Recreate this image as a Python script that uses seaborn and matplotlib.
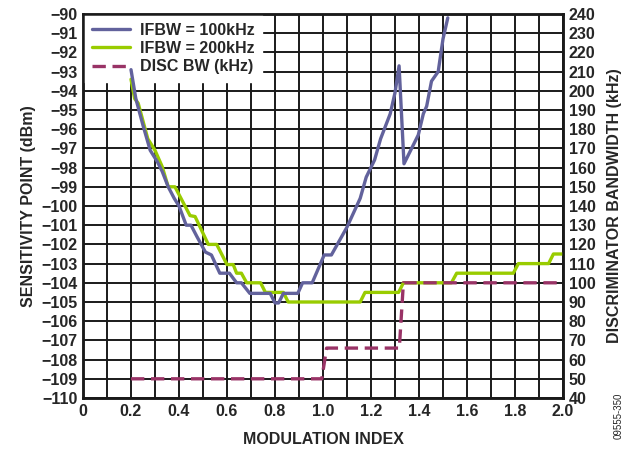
import matplotlib
matplotlib.use("Agg")
import matplotlib.pyplot as plt
import seaborn as sns
import pandas as pd
from matplotlib.ticker import MultipleLocator, FixedLocator

# ---- data ----
ifbw100_x = [0.20, 0.22, 0.25, 0.28, 0.31, 0.33, 0.355, 0.38, 0.40, 0.43, 0.45, 0.475,
             0.51, 0.535, 0.57, 0.61, 0.64, 0.66, 0.695, 0.78, 0.80, 0.815, 0.835, 0.895,
             0.915, 0.955, 1.005, 1.035, 1.10, 1.155, 1.18, 1.215, 1.24, 1.28, 1.30,
             1.317, 1.3375, 1.397, 1.418, 1.432, 1.452, 1.48, 1.50, 1.52]
ifbw100_y = [-92.9, -94.4, -95.8, -97.1, -97.7, -98.2, -99.0, -99.6, -100.0, -101.0, -101.0, -101.6,
             -102.4, -102.55, -103.5, -103.5, -104.0, -104.0, -104.55, -104.55, -105.05, -105.05, -104.55, -104.55,
             -104.0, -104.0, -102.55, -102.55, -101.1, -99.6, -98.5, -97.6, -96.5, -95.2, -94.1,
             -92.7, -97.8, -96.3, -95.2, -94.8, -93.5, -93.0, -91.3, -90.2]

ifbw200_x = [0.20, 0.215, 0.23, 0.27, 0.30, 0.33, 0.355, 0.383, 0.446, 0.467, 0.522, 0.557,
             0.60, 0.626, 0.64, 0.66, 0.682, 0.74, 0.76, 0.835, 0.855, 1.155, 1.175, 1.315,
             1.335, 1.535, 1.557, 1.793, 1.814, 1.94, 1.96, 2.0]
ifbw200_y = [-93.4, -94.4, -94.65, -96.5, -97.1, -97.95, -99.0, -99.0, -100.5, -100.55, -102.0, -102.0,
             -103.05, -103.05, -103.5, -103.5, -104.0, -104.0, -104.5, -104.5, -105.0, -105.0, -104.5, -104.5,
             -104.0, -104.0, -103.5, -103.5, -103.0, -103.0, -102.5, -102.5]

disc_x = [0.20, 0.995, 1.015, 1.318, 1.335, 2.0]
disc_y = [50, 50, 66, 66, 100, 100]

x_ticks = [0, 0.2, 0.4, 0.6, 0.8, 1.0, 1.2, 1.4, 1.6, 1.8, 2.0]
x_ticklabels = ["0", "0.2", "0.4", "0.6", "0.8", "1.0", "1.2", "1.4", "1.6", "1.8", "2.0"]

# ---- style ----
sns.set_style("white")
plt.rcParams["font.family"] = ["Liberation Sans", "DejaVu Sans"]
plt.rcParams["font.weight"] = "bold"
plt.rcParams["axes.unicode_minus"] = True

c_blue = "#62629C"
c_green = "#99CC00"
c_disc = "#993366"
FS = 11.5

fig = plt.figure(figsize=(6.34, 4.53), dpi=100)
ax = fig.add_axes([83/634, 1-398/453, 480/634, 384/453])
ax2 = ax.twinx()

df100 = pd.DataFrame({"x": ifbw100_x, "y": ifbw100_y})
df200 = pd.DataFrame({"x": ifbw200_x, "y": ifbw200_y})
dfd = pd.DataFrame({"x": disc_x, "y": disc_y})

sns.lineplot(data=df100, x="x", y="y", ax=ax, color=c_blue, lw=2.4, sort=False,
             label="IFBW = 100kHz", zorder=10)
sns.lineplot(data=df200, x="x", y="y", ax=ax, color=c_green, lw=2.4, sort=False,
             label="IFBW = 200kHz", zorder=9)
sns.lineplot(data=dfd, x="x", y="y", ax=ax2, color=c_disc, lw=2.4, sort=False,
             label="DISC BW (kHz)", zorder=8, legend=False)
for l in ax2.get_lines():
    l.set_dashes([4, 2])

ax.set_xlim(0, 2.0)
ax.set_ylim(-110, -90)
ax2.set_ylim(40, 240)

ax.xaxis.set_major_locator(FixedLocator(x_ticks))
ax.set_xticklabels(x_ticklabels)
ax.xaxis.set_minor_locator(MultipleLocator(0.1))
ax.yaxis.set_major_locator(MultipleLocator(1))
ax2.yaxis.set_major_locator(MultipleLocator(10))

ax.grid(True, which="both", color="#1a1a1a", lw=1.4)
ax.set_axisbelow(True)
ax.tick_params(which="both", length=0, labelsize=FS, pad=4)
ax2.tick_params(which="both", length=0, labelsize=FS, pad=4)
for lab in ax.get_xticklabels() + ax.get_yticklabels() + ax2.get_yticklabels():
    lab.set_fontweight("bold")

for sp in list(ax.spines.values()) + list(ax2.spines.values()):
    sp.set_color("#1a1a1a")
    sp.set_linewidth(1.8)

ax.set_xlabel("MODULATION INDEX", fontsize=FS, fontweight="bold", labelpad=10)
ax.set_ylabel("SENSITIVITY POINT (dBm)", fontsize=FS, fontweight="bold", labelpad=4)
ax2.set_ylabel("DISCRIMINATOR BANDWIDTH (kHz)", fontsize=FS, fontweight="bold",
               rotation=90, labelpad=8)

h1, l1 = ax.get_legend_handles_labels()
h2 = ax2.get_lines()
leg = ax.legend(h1 + h2, l1 + ["DISC BW (kHz)"], loc="upper left",
                frameon=True, fancybox=False, framealpha=1.0, edgecolor="white",
                prop={"weight": "bold", "size": FS}, handlelength=2.4,
                handletextpad=0.6, labelspacing=0.2, borderpad=0.5,
                borderaxespad=0.05)
leg.set_zorder(5)

fig.text(0.975, 0.03, "09555-350", rotation=90, fontsize=7, fontweight="normal",
         ha="center", va="bottom")

fig.savefig("out.png", dpi=100)
